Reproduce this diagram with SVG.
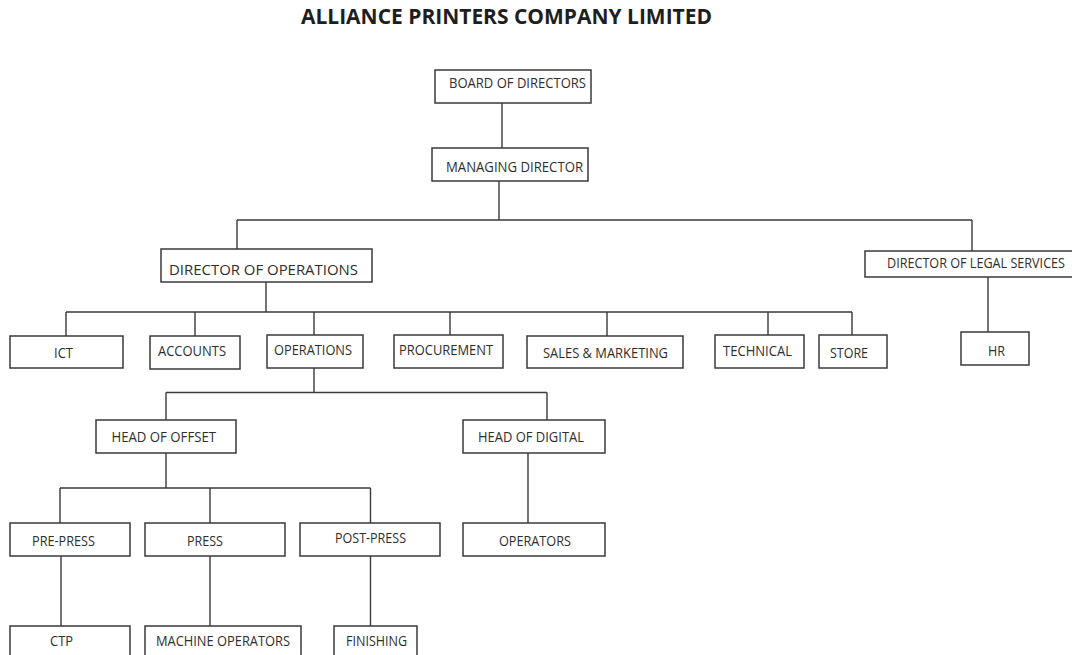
<svg xmlns="http://www.w3.org/2000/svg" width="1072" height="655" viewBox="0 0 1072 655">
<style>
.box{fill:#fff;stroke:#3a3a3a;stroke-width:1.5}
.lbl{font-family:"Open Sans","Noto Sans","Liberation Sans",sans-serif;font-size:15px;fill:#2e2e2e}
.ttl{font-family:"Open Sans","Noto Sans","Liberation Sans",sans-serif;font-size:22px;font-weight:bold;fill:#1e1e1e}
#connectors path{fill:none;stroke:#3a3a3a;stroke-width:1.4}
</style>
<rect x="0" y="0" width="1072" height="655" fill="#fff"/>
<text class="ttl" x="301" y="24" textLength="411" lengthAdjust="spacingAndGlyphs">ALLIANCE PRINTERS COMPANY LIMITED</text>
<g id="connectors">
<path d="M502 103V148"/>
<path d="M499 181V220M237 220H972M237 220V249M972 220V251"/>
<path d="M266 282V312M66 312H852M66 312V336M195 312V336M314 312V335M450 312V335M607 312V336M768 312V335M852 312V335"/>
<path d="M988 277V332"/>
<path d="M314 368V392.5M166 392.5H547M166 392.5V420M547 392.5V420"/>
<path d="M166 453V488M60 488H370.5M60 488V523M210 488V523M370.5 488V523"/>
<path d="M528 453V523"/>
<path d="M61 556V626M210 556V626M370.5 556V626"/>
</g>
<g id="board"><rect class="box" x="435" y="70" width="156" height="33"/><text class="lbl" x="449" y="87.5" textLength="137" lengthAdjust="spacingAndGlyphs">BOARD OF DIRECTORS</text></g>
<g id="md"><rect class="box" x="432" y="148" width="156" height="33"/><text class="lbl" x="446" y="172" textLength="137" lengthAdjust="spacingAndGlyphs">MANAGING DIRECTOR</text></g>
<g id="dops"><rect class="box" x="161" y="249" width="211" height="33"/><text class="lbl" x="169" y="275" textLength="189" lengthAdjust="spacingAndGlyphs">DIRECTOR OF OPERATIONS</text></g>
<g id="dlegal"><rect class="box" x="865" y="251" width="210" height="26"/><text class="lbl" x="887" y="268" textLength="178" lengthAdjust="spacingAndGlyphs">DIRECTOR OF LEGAL SERVICES</text></g>
<g id="ict"><rect class="box" x="10" y="336" width="113" height="32"/><text class="lbl" x="54" y="358" textLength="19" lengthAdjust="spacingAndGlyphs">ICT</text></g>
<g id="accounts"><rect class="box" x="150" y="336" width="90" height="33"/><text class="lbl" x="158" y="356" textLength="68" lengthAdjust="spacingAndGlyphs">ACCOUNTS</text></g>
<g id="operations"><rect class="box" x="267" y="335" width="96" height="33"/><text class="lbl" x="274" y="355" textLength="78" lengthAdjust="spacingAndGlyphs">OPERATIONS</text></g>
<g id="procurement"><rect class="box" x="394" y="335" width="109" height="33"/><text class="lbl" x="399" y="355" textLength="94" lengthAdjust="spacingAndGlyphs">PROCUREMENT</text></g>
<g id="sales"><rect class="box" x="527" y="336" width="156" height="32"/><text class="lbl" x="543" y="358" textLength="125" lengthAdjust="spacingAndGlyphs">SALES &amp; MARKETING</text></g>
<g id="technical"><rect class="box" x="715" y="335" width="89" height="33"/><text class="lbl" x="723" y="356" textLength="69" lengthAdjust="spacingAndGlyphs">TECHNICAL</text></g>
<g id="store"><rect class="box" x="819" y="335" width="68" height="33"/><text class="lbl" x="830" y="358" textLength="38" lengthAdjust="spacingAndGlyphs">STORE</text></g>
<g id="hr"><rect class="box" x="961" y="332" width="68" height="33"/><text class="lbl" x="988" y="356" textLength="17" lengthAdjust="spacingAndGlyphs">HR</text></g>
<g id="offset"><rect class="box" x="96" y="420" width="140" height="33"/><text class="lbl" x="111.5" y="442" textLength="104.5" lengthAdjust="spacingAndGlyphs">HEAD OF OFFSET</text></g>
<g id="digital"><rect class="box" x="463" y="420" width="142" height="33"/><text class="lbl" x="478" y="442" textLength="106" lengthAdjust="spacingAndGlyphs">HEAD OF DIGITAL</text></g>
<g id="prepress"><rect class="box" x="10" y="523" width="120" height="33"/><text class="lbl" x="32" y="546" textLength="63" lengthAdjust="spacingAndGlyphs">PRE-PRESS</text></g>
<g id="press"><rect class="box" x="145" y="523" width="140" height="33"/><text class="lbl" x="187" y="546" textLength="36" lengthAdjust="spacingAndGlyphs">PRESS</text></g>
<g id="postpress"><rect class="box" x="300" y="523" width="140" height="33"/><text class="lbl" x="335" y="543" textLength="71" lengthAdjust="spacingAndGlyphs">POST-PRESS</text></g>
<g id="operators"><rect class="box" x="463" y="523" width="142" height="33"/><text class="lbl" x="499" y="546" textLength="72" lengthAdjust="spacingAndGlyphs">OPERATORS</text></g>
<g id="ctp"><rect class="box" x="10" y="626" width="120" height="40"/><text class="lbl" x="50" y="646" textLength="23" lengthAdjust="spacingAndGlyphs">CTP</text></g>
<g id="machine"><rect class="box" x="145" y="626" width="156" height="40"/><text class="lbl" x="156" y="646" textLength="134" lengthAdjust="spacingAndGlyphs">MACHINE OPERATORS</text></g>
<g id="finishing"><rect class="box" x="334" y="626" width="83" height="40"/><text class="lbl" x="346" y="646" textLength="61" lengthAdjust="spacingAndGlyphs">FINISHING</text></g>
</svg>
